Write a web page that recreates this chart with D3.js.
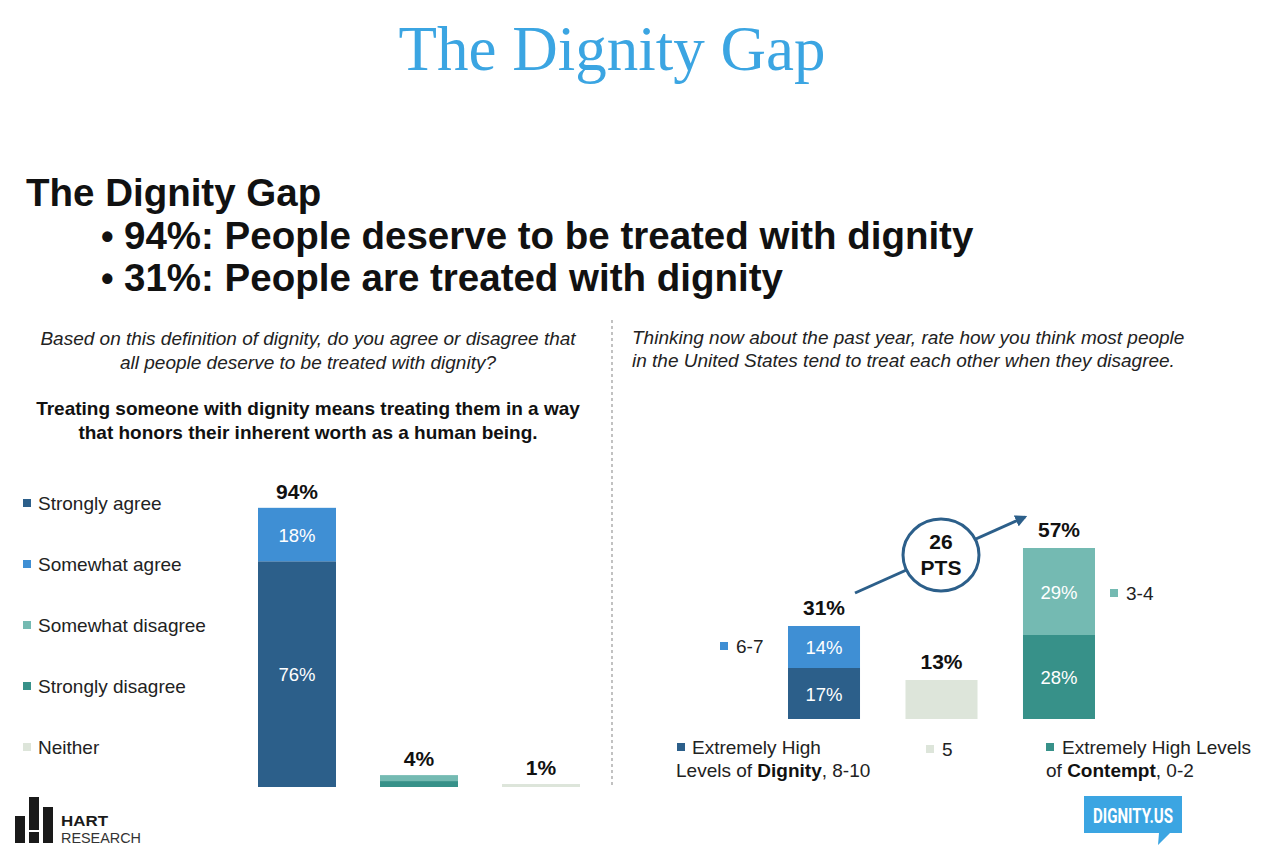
<!DOCTYPE html>
<html>
<head>
<meta charset="utf-8">
<script src="https://cdn.jsdelivr.net/npm/d3@7"></script>
<style>
  html, body { margin: 0; padding: 0; background: #fff; }
  svg { display: block; }
  text { font-family: "Liberation Sans", Arial, sans-serif; }
</style>
</head>
<body>
<svg id="chart" width="1273" height="853"></svg>
<script>
// ---------- DATA ----------
const leftCategories = ["Agree", "Disagree", "Neither"];
const leftKeys = ["Strongly agree", "Somewhat agree", "Strongly disagree", "Somewhat disagree", "Neither"];
const leftStronglyAgree    = [76, 0, 0];
const leftSomewhatAgree    = [18, 0, 0];
const leftStronglyDisagree = [0, 2, 0];
const leftSomewhatDisagree = [0, 2, 0];
const leftNeither          = [0, 0, 1];
const leftTotals = [94, 4, 1];
const leftLegend = ["Strongly agree", "Somewhat agree", "Somewhat disagree", "Strongly disagree", "Neither"];

const rightCategories = ["Dignity", "Neutral", "Contempt"];
const rightKeys = ["8-10", "6-7", "5", "0-2", "3-4"];
const right810 = [17, 0, 0];
const right67  = [14, 0, 0];
const right5   = [0, 13, 0];
const right02  = [0, 0, 28];
const right34  = [0, 0, 29];
const rightTotals = [31, 13, 57];
const gapLabel = ["26", "PTS"];

// ---------- STYLE ----------
const colors = {
  "Strongly agree": "#2c5f8a", "Somewhat agree": "#3f8fd4",
  "Somewhat disagree": "#74bab2", "Strongly disagree": "#379189", "Neither": "#dde5da",
  "8-10": "#2c5f8a", "6-7": "#3f8fd4", "5": "#dde5da", "0-2": "#379189", "3-4": "#74bab2"
};
const svg = d3.select("#chart");

// ---------- TITLES ----------
svg.append("text").attr("x", 612).attr("y", 70).attr("text-anchor", "middle")
  .style("font-family", "'Liberation Serif', 'DejaVu Serif', serif")
  .style("font-size", "63px").attr("fill", "#3ba5e2").text("The Dignity Gap");

svg.append("text").attr("x", 26).attr("y", 206)
  .style("font-size", "38.5px").style("font-weight", "bold").attr("fill", "#111")
  .text("The Dignity Gap");
const bullets = ["94%: People deserve to be treated with dignity", "31%: People are treated with dignity"];
bullets.forEach((b, i) => {
  const y = 249 + i * 42;
  svg.append("text").attr("x", 101).attr("y", y).style("font-size", "36px")
    .style("font-weight", "bold").attr("fill", "#111").text("•");
  svg.append("text").attr("x", 124).attr("y", y).style("font-size", "38.5px")
    .style("font-weight", "bold").attr("fill", "#111").text(b);
});

// question texts
const qLeft = ["Based on this definition of dignity, do you agree or disagree that", "all people deserve to be treated with dignity?"];
qLeft.forEach((t, i) => svg.append("text").attr("x", 308).attr("y", 345 + i * 24)
  .attr("text-anchor", "middle").style("font-size", "19px").style("font-style", "italic")
  .attr("fill", "#222").text(t));
const defLeft = ["Treating someone with dignity means treating them in a way", "that honors their inherent worth as a human being."];
defLeft.forEach((t, i) => svg.append("text").attr("x", 308).attr("y", 415 + i * 24)
  .attr("text-anchor", "middle").style("font-size", "19px").style("font-weight", "bold")
  .attr("fill", "#111").text(t));
const qRight = ["Thinking now about the past year, rate how you think most people", "in the United States tend to treat each other when they disagree."];
qRight.forEach((t, i) => svg.append("text").attr("x", 632).attr("y", 344 + i * 23)
  .style("font-size", "19px").style("font-style", "italic").attr("fill", "#222").text(t));

// divider
svg.append("line").attr("x1", 612).attr("x2", 612).attr("y1", 320).attr("y2", 788)
  .attr("stroke", "#999").attr("stroke-width", 1.2).attr("stroke-dasharray", "3,3");

// ---------- LEFT CHART ----------
const leftRows = leftCategories.map((c, i) => ({
  cat: c,
  "Strongly agree": leftStronglyAgree[i], "Somewhat agree": leftSomewhatAgree[i],
  "Strongly disagree": leftStronglyDisagree[i], "Somewhat disagree": leftSomewhatDisagree[i],
  "Neither": leftNeither[i]
}));
const xL = d3.scaleBand().domain(leftCategories).range([258, 580]).paddingInner(0.3607).paddingOuter(0);
const yL = d3.scaleLinear().domain([0, 100]).range([787, 490]);
const stackL = d3.stack().keys(leftKeys)(leftRows);
const gL = svg.append("g");
stackL.forEach(layer => {
  gL.selectAll(null).data(layer.filter(d => d[1] > d[0])).enter().append("rect")
    .attr("x", d => xL(d.data.cat)).attr("width", xL.bandwidth())
    .attr("y", d => yL(d[1])).attr("height", d => yL(d[0]) - yL(d[1]))
    .attr("fill", colors[layer.key]);
  gL.selectAll(null).data(layer.filter(d => d[1] - d[0] >= 10)).enter().append("text")
    .attr("x", d => xL(d.data.cat) + xL.bandwidth() / 2)
    .attr("y", d => (yL(d[0]) + yL(d[1])) / 2 + 7)
    .attr("text-anchor", "middle").style("font-size", "18.5px").attr("fill", "#fff")
    .text(d => (d[1] - d[0]) + "%");
});
gL.selectAll(null).data(leftCategories).enter().append("text")
  .attr("x", d => xL(d) + xL.bandwidth() / 2)
  .attr("y", (d, i) => yL(leftTotals[i]) - 9)
  .attr("text-anchor", "middle").style("font-size", "21px").style("font-weight", "bold")
  .attr("fill", "#111").text((d, i) => leftTotals[i] + "%");

// left legend
const legL = svg.append("g");
leftLegend.forEach((k, i) => {
  const y = 503 + i * 61;
  legL.append("rect").attr("x", 23).attr("y", y - 4).attr("width", 8).attr("height", 8).attr("fill", colors[k]);
  legL.append("text").attr("x", 38).attr("y", y + 7).style("font-size", "19px").attr("fill", "#222").text(k);
});

// ---------- RIGHT CHART ----------
const rightRows = rightCategories.map((c, i) => ({
  cat: c, "8-10": right810[i], "6-7": right67[i], "5": right5[i], "0-2": right02[i], "3-4": right34[i]
}));
const xR = d3.scaleBand().domain(rightCategories).range([788, 1095]).paddingInner(0.387).paddingOuter(0);
const yR = d3.scaleLinear().domain([0, 100]).range([719, 419]);
const stackR = d3.stack().keys(rightKeys)(rightRows);
const gR = svg.append("g");
stackR.forEach(layer => {
  gR.selectAll(null).data(layer.filter(d => d[1] > d[0])).enter().append("rect")
    .attr("x", d => xR(d.data.cat)).attr("width", xR.bandwidth())
    .attr("y", d => yR(d[1])).attr("height", d => yR(d[0]) - yR(d[1]))
    .attr("fill", colors[layer.key]);
  gR.selectAll(null).data(layer.filter(d => d[1] - d[0] >= 14)).enter().append("text")
    .attr("x", d => xR(d.data.cat) + xR.bandwidth() / 2)
    .attr("y", d => (yR(d[0]) + yR(d[1])) / 2 + 7)
    .attr("text-anchor", "middle").style("font-size", "18.5px").attr("fill", "#fff")
    .text(d => (d[1] - d[0]) + "%");
});
gR.selectAll(null).data(rightCategories).enter().append("text")
  .attr("x", d => xR(d) + xR.bandwidth() / 2)
  .attr("y", (d, i) => yR(rightTotals[i]) - 11)
  .attr("text-anchor", "middle").style("font-size", "21px").style("font-weight", "bold")
  .attr("fill", "#111").text((d, i) => rightTotals[i] + "%");

// right legends
function sq(x, y, c) { svg.append("rect").attr("x", x).attr("y", y).attr("width", 8).attr("height", 8).attr("fill", c); }
const fs = "19px";
sq(720, 642, colors["6-7"]);
svg.append("text").attr("x", 736).attr("y", 653).style("font-size", fs).attr("fill", "#222").text("6-7");
sq(1110, 589, colors["3-4"]);
svg.append("text").attr("x", 1126).attr("y", 600).style("font-size", fs).attr("fill", "#222").text("3-4");
sq(677, 743, colors["8-10"]);
svg.append("text").attr("x", 692).attr("y", 754).style("font-size", fs).attr("fill", "#222").text("Extremely High");
const t1 = svg.append("text").attr("x", 676).attr("y", 777).style("font-size", fs).attr("fill", "#222");
t1.append("tspan").text("Levels of ");
t1.append("tspan").style("font-weight", "bold").attr("fill", "#111").text("Dignity");
t1.append("tspan").text(", 8-10");
sq(926, 745, colors["5"]);
svg.append("text").attr("x", 942).attr("y", 756).style("font-size", fs).attr("fill", "#222").text("5");
sq(1046, 743, colors["0-2"]);
svg.append("text").attr("x", 1062).attr("y", 754).style("font-size", fs).attr("fill", "#222").text("Extremely High Levels");
const t2 = svg.append("text").attr("x", 1046).attr("y", 777).style("font-size", fs).attr("fill", "#222");
t2.append("tspan").text("of ");
t2.append("tspan").style("font-weight", "bold").attr("fill", "#111").text("Contempt");
t2.append("tspan").text(", 0-2");

// gap arrow + circle
const arrowColor = "#2c5f8a";
svg.append("defs").append("marker").attr("id", "ah").attr("viewBox", "0 0 10 10")
  .attr("refX", 8).attr("refY", 5).attr("markerWidth", 4).attr("markerHeight", 4).attr("orient", "auto")
  .append("path").attr("d", "M0,0 L10,5 L0,10 z").attr("fill", arrowColor);
svg.append("line").attr("x1", 855).attr("y1", 593).attr("x2", 1025).attr("y2", 517)
  .attr("stroke", arrowColor).attr("stroke-width", 3).attr("marker-end", "url(#ah)");
svg.append("ellipse").attr("cx", 941).attr("cy", 555).attr("rx", 38).attr("ry", 36)
  .attr("fill", "#fff").attr("stroke", arrowColor).attr("stroke-width", 3);
gapLabel.forEach((t, i) => svg.append("text").attr("x", 941).attr("y", 549 + i * 26)
  .attr("text-anchor", "middle").style("font-size", "21px").style("font-weight", "bold")
  .attr("fill", "#111").text(t));

// ---------- LOGOS ----------
const logo = svg.append("g").attr("fill", "#1a1a1a");
logo.append("rect").attr("x", 15).attr("y", 816).attr("width", 10).attr("height", 27);
logo.append("rect").attr("x", 29).attr("y", 797).attr("width", 10).attr("height", 33);
logo.append("rect").attr("x", 29).attr("y", 832).attr("width", 10).attr("height", 11);
logo.append("rect").attr("x", 43).attr("y", 807).attr("width", 10).attr("height", 36);
svg.append("text").attr("x", 61).attr("y", 826).style("font-size", "15px").style("font-weight", "bold")
  .attr("fill", "#1a1a1a").attr("textLength", 47).attr("lengthAdjust", "spacingAndGlyphs").text("HART");
svg.append("text").attr("x", 61).attr("y", 843).style("font-size", "15px")
  .attr("fill", "#333").attr("textLength", 80).attr("lengthAdjust", "spacingAndGlyphs").text("RESEARCH");

svg.append("path").attr("d", "M1084,796 H1182 V833 H1170 L1158,845 L1159,833 H1084 Z").attr("fill", "#3ba5e2");
svg.append("text").attr("x", 1133).attr("y", 823).attr("text-anchor", "middle")
  .style("font-family", "'Roboto', 'Liberation Sans', sans-serif").style("font-size", "21px")
  .style("font-weight", "bold").attr("fill", "#fff").attr("textLength", 80).attr("lengthAdjust", "spacingAndGlyphs")
  .text("DIGNITY.US");
</script>
</body>
</html>
